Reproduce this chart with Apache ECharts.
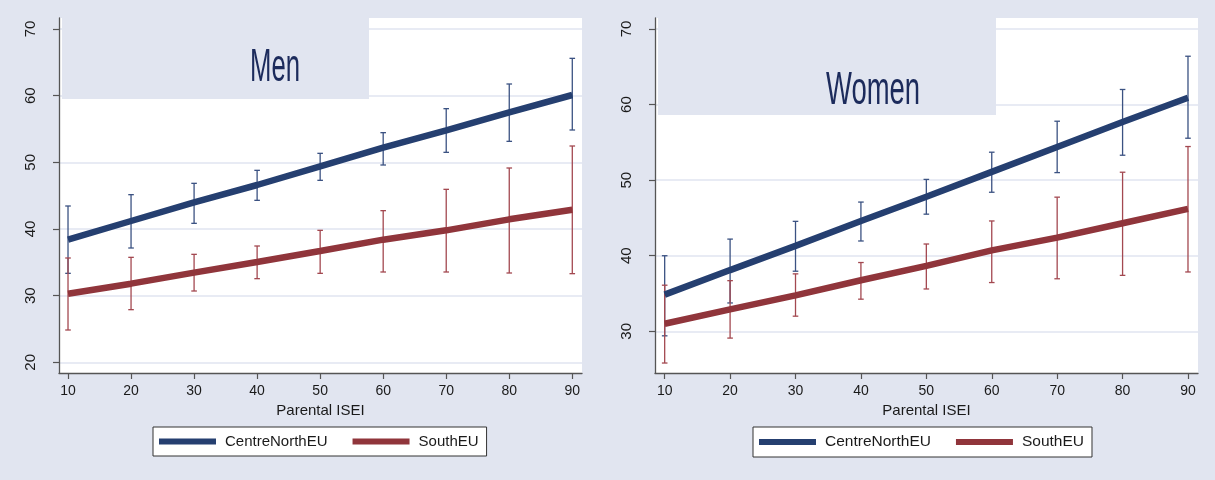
<!DOCTYPE html>
<html>
<head>
<meta charset="utf-8">
<script src="https://cdn.jsdelivr.net/npm/echarts@6/dist/echarts.min.js"></script>
<style>
  html, body { margin: 0; padding: 0; background: #e1e5f0; }
  #chart { width: 1215px; height: 480px; }
</style>
</head>
<body>
<div id="chart"></div>
<script>
// Predicted outcome by parental ISEI, with confidence intervals
const isei = [10, 20, 30, 40, 50, 60, 70, 80, 90];
const xTicks = [10, 20, 30, 40, 50, 60, 70, 80, 90];
const menYTicks = [20, 30, 40, 50, 60, 70];
const womenYTicks = [30, 40, 50, 60, 70];
const groups = ['CentreNorthEU', 'SouthEU'];

// Men
const menCN   = [38.4, 41.2, 44.0, 46.6, 49.4, 52.2, 54.8, 57.5, 60.1];
const menCNLo = [33.35, 37.15, 40.85, 44.3, 47.3, 49.6, 51.5, 53.15, 54.85];
const menCNHi = [43.45, 45.15, 46.85, 48.8, 51.35, 54.45, 58.05, 61.75, 65.6];
const menS    = [30.3, 31.8, 33.45, 35.05, 36.7, 38.4, 39.8, 41.45, 42.9];
const menSLo  = [24.85, 27.9, 30.7, 32.55, 33.35, 33.55, 33.55, 33.4, 33.3];
const menSHi  = [35.65, 35.75, 36.2, 37.45, 39.8, 42.75, 45.95, 49.15, 52.45];

// Women
const womenCN   = [34.85, 38.1, 41.3, 44.6, 47.8, 51.1, 54.4, 57.7, 60.9];
const womenCNLo = [29.4, 33.75, 37.95, 41.95, 45.5, 48.4, 51.0, 53.3, 55.55];
const womenCNHi = [40.0, 42.2, 44.55, 47.1, 50.1, 53.7, 57.8, 62.0, 66.4];
const womenS    = [31.0, 32.9, 34.75, 36.75, 38.65, 40.7, 42.4, 44.3, 46.2];
const womenSLo  = [25.8, 29.1, 32.0, 34.25, 35.6, 36.45, 36.95, 37.4, 37.85];
const womenSHi  = [36.1, 36.7, 37.6, 39.1, 41.55, 44.6, 47.75, 51.05, 54.45];

const BG = '#e1e5f0';
const NAVY = '#253f70';
const MAROON = '#90353b';
const NAVY_CI = '#3b5282';
const MAROON_CI = '#a34850';
const FONT = "'Liberation Sans', Arial, sans-serif";
const HEAD_FONT = "'Liberation Sans Narrow', 'Arial Narrow', 'Liberation Sans', sans-serif";
const TEXT = '#1a1a1a';

const chart = echarts.init(document.getElementById('chart'), null, { renderer: 'canvas' });

function ciRenderer(color) {
  return function (params, api) {
    const x = api.value(0);
    const lo = api.coord([x, api.value(1)]);
    const hi = api.coord([x, api.value(2)]);
    const hw = 2.8;
    const st = { stroke: color, lineWidth: 1.3 };
    return {
      type: 'group',
      children: [
        { type: 'line', shape: { x1: lo[0], y1: lo[1], x2: hi[0], y2: hi[1] }, style: st },
        { type: 'line', shape: { x1: lo[0] - hw, y1: lo[1], x2: lo[0] + hw, y2: lo[1] }, style: st },
        { type: 'line', shape: { x1: hi[0] - hw, y1: hi[1], x2: hi[0] + hw, y2: hi[1] }, style: st }
      ]
    };
  };
}

function ciSeries(name, idx, lo, hi, color) {
  return {
    type: 'custom', name: name, xAxisIndex: idx, yAxisIndex: idx, z: 2,
    renderItem: ciRenderer(color),
    encode: { x: 0, y: [1, 2] },
    data: isei.map((v, i) => [v, lo[i], hi[i]]),
    silent: true
  };
}

function lineSeries(name, idx, vals, color) {
  return {
    type: 'line', name: name, xAxisIndex: idx, yAxisIndex: idx, z: 3,
    data: isei.map((v, i) => [v, vals[i]]),
    showSymbol: false, symbol: 'none',
    lineStyle: { width: 6.5, color: color, cap: 'butt' },
    itemStyle: { color: color },
    emphasis: { disabled: true },
    silent: true
  };
}

function xAxis(idx, min, max) {
  return {
    type: 'value', gridIndex: idx, min: min, max: max,
    name: 'Parental ISEI', nameLocation: 'middle', nameGap: 27,
    nameTextStyle: { fontFamily: FONT, fontSize: 15, color: TEXT },
    axisLine: { show: true, onZero: false, lineStyle: { color: '#555', width: 1.3 } },
    axisTick: { show: true, length: 6, customValues: xTicks, lineStyle: { color: '#555', width: 1.2 } },
    axisLabel: { customValues: xTicks, margin: 11, fontFamily: FONT, fontSize: 14, color: TEXT },
    splitLine: { show: false }
  };
}

function yAxis(idx, min, max, ticks) {
  return {
    type: 'value', gridIndex: idx, min: min, max: max,
    axisLine: { show: true, onZero: false, lineStyle: { color: '#555', width: 1.3 } },
    axisTick: { show: true, length: 6, customValues: ticks, lineStyle: { color: '#555', width: 1.2 } },
    axisLabel: { customValues: ticks, rotate: 90, margin: 21, fontFamily: FONT, fontSize: 15, color: TEXT },
    splitLine: { show: true, lineStyle: { color: BG, width: 1.6 } }
  };
}

function legend(left, width, fontSize) {
  return {
    data: groups, left: left, top: 427, width: width,
    orient: 'horizontal', icon: 'rect',
    itemWidth: 57, itemHeight: 6, itemGap: 25,
    backgroundColor: '#fff', borderColor: '#333', borderWidth: 1, borderRadius: 0,
    padding: [7, 8, 7, 6],
    textStyle: { fontFamily: FONT, fontSize: fontSize, color: TEXT, padding: [0, 0, 0, 4] },
    selectedMode: false
  };
}

// Tall, condensed panel headings drawn as horizontally scaled text
function heading(label, cx, cy, targetWidth) {
  const size = 47;
  const ctx = document.createElement('canvas').getContext('2d');
  ctx.font = size + 'px ' + HEAD_FONT;
  const w = ctx.measureText(label).width;
  return {
    type: 'text', x: cx, y: cy, z: 10,
    scaleX: targetWidth / w, scaleY: 1,
    style: {
      text: label, fontFamily: HEAD_FONT, fontSize: size, fill: '#1c2b5c',
      textAlign: 'center', textVerticalAlign: 'middle'
    }
  };
}

const option = {
  backgroundColor: BG,
  animation: false,
  grid: [
    { left: 59, top: 18, width: 523, height: 355, show: true, backgroundColor: '#fff', borderWidth: 0 },
    { left: 655, top: 18, width: 543, height: 355, show: true, backgroundColor: '#fff', borderWidth: 0 }
  ],
  xAxis: [xAxis(0, 8.57, 91.54), xAxis(1, 8.52, 91.53)],
  yAxis: [yAxis(0, 18.4, 71.65, menYTicks), yAxis(1, 24.48, 71.46, womenYTicks)],
  legend: [legend(153, 320, 15), legend(753, 334, 15.5)],
  graphic: [
    { type: 'rect', shape: { x: 62, y: 18, width: 307, height: 81 }, style: { fill: BG }, z: 5 },
    { type: 'rect', shape: { x: 658, y: 18, width: 338, height: 97 }, style: { fill: BG }, z: 5 },
    heading('Men', 275, 68, 50),
    heading('Women', 873, 91, 94)
  ],
  series: [
    ciSeries('CentreNorthEU CI', 0, menCNLo, menCNHi, NAVY_CI),
    ciSeries('SouthEU CI', 0, menSLo, menSHi, MAROON_CI),
    lineSeries(groups[0], 0, menCN, NAVY),
    lineSeries(groups[1], 0, menS, MAROON),
    ciSeries('CentreNorthEU CI', 1, womenCNLo, womenCNHi, NAVY_CI),
    ciSeries('SouthEU CI', 1, womenSLo, womenSHi, MAROON_CI),
    lineSeries(groups[0], 1, womenCN, NAVY),
    lineSeries(groups[1], 1, womenS, MAROON)
  ]
};

chart.setOption(option);
</script>
</body>
</html>
